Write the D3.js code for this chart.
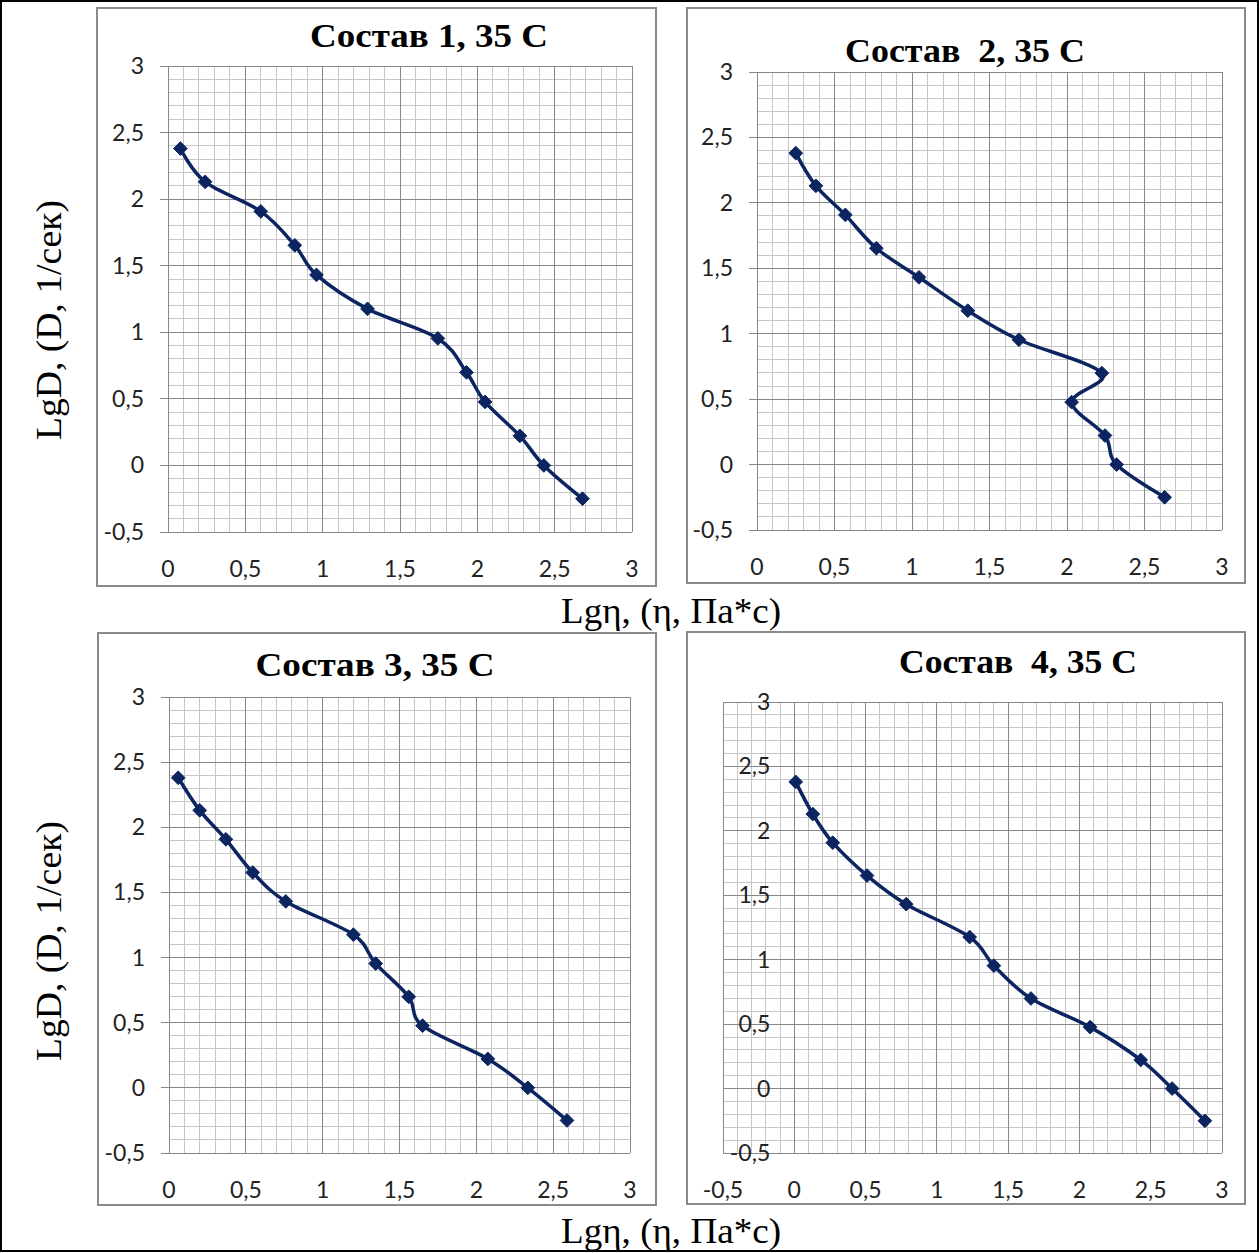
<!DOCTYPE html>
<html>
<head>
<meta charset="utf-8">
<script src="https://cdn.jsdelivr.net/npm/d3@7"></script>
<style>
  html, body { margin: 0; padding: 0; background: #fff; }
  svg { display: block; }
</style>
</head>
<body>
<svg id="chart" width="1260" height="1253"></svg>
<script>
// Shear rate (log scale) shared by all four compositions
const lgD = [2.380, 2.130, 1.908, 1.653, 1.431, 1.176, 0.954, 0.699, 0.477, 0.222, 0.000, -0.250];

// Viscosity (log scale) for each composition at 35 C
const lgEta1 = [0.08, 0.24, 0.60, 0.82, 0.96, 1.29, 1.745, 1.93, 2.05, 2.275, 2.43, 2.68];
const lgEta2 = [0.25, 0.38, 0.57, 0.77, 1.045, 1.36, 1.69, 2.225, 2.03, 2.245, 2.32, 2.63];
const lgEta3 = [0.06, 0.20, 0.37, 0.545, 0.76, 1.20, 1.345, 1.56, 1.65, 2.075, 2.335, 2.59];
const lgEta4 = [0.01, 0.13, 0.27, 0.51, 0.785, 1.23, 1.40, 1.66, 2.075, 2.43, 2.65, 2.88];

const titles = ["Состав 1, 35 С", "Состав  2, 35 С", "Состав 3, 35 С", "Состав  4, 35 С"];
const yTicks = [-0.5, 0, 0.5, 1, 1.5, 2, 2.5, 3];
const xTicks = [0, 0.5, 1, 1.5, 2, 2.5, 3];
const xTicks4 = [-0.5, 0, 0.5, 1, 1.5, 2, 2.5, 3];
const yAxisTitle = "LgD, (D, 1/сек)";
const xAxisTitle = "Lgη, (η, Па*с)";

const fmt = v => String(v).replace(".", ",");

const svg = d3.select("#chart");
const lineColor = "#0c2561";
const serif = "'Liberation Serif', 'DejaVu Serif', serif";
const sans = "Lato, 'Open Sans', sans-serif";

// Layout of the four chart boxes
const panels = [
  { eta: lgEta1, title: titles[0], frame: [97, 8, 656, 586], plot: [168, 66, 632, 532], xDom: [0, 3], xt: xTicks, tx: 429, ty: 35, tw: 238, ext: 8 },
  { eta: lgEta2, title: titles[1], frame: [687, 8, 1245, 583], plot: [757, 72, 1222, 530], xDom: [0, 3], xt: xTicks, tx: 965, ty: 50, tw: 240, ext: 8 },
  { eta: lgEta3, title: titles[2], frame: [98, 633, 656, 1205], plot: [169, 697, 630, 1153], xDom: [0, 3], xt: xTicks, tx: 375, ty: 664, tw: 239, ext: 8 },
  { eta: lgEta4, title: titles[3], frame: [687, 632, 1245, 1204], plot: [723, 702, 1222, 1153], xDom: [-0.5, 3], xt: xTicks4, tx: 1018, ty: 661, tw: 238, ext: 0 }
];

// outer border
svg.append("rect").attr("x", 1).attr("y", 1).attr("width", 1257).attr("height", 1250)
  .attr("fill", "none").attr("stroke", "#000").attr("stroke-width", 2);

panels.forEach(p => {
  const g = svg.append("g");
  const [fx0, fy0, fx1, fy1] = p.frame;
  const [px0, py0, px1, py1] = p.plot;

  g.append("rect").attr("x", fx0).attr("y", fy0).attr("width", fx1 - fx0).attr("height", fy1 - fy0)
    .attr("fill", "#fff").attr("stroke", "#8a8a8a").attr("stroke-width", 2);

  const x = d3.scaleLinear().domain(p.xDom).range([px0, px1]);
  const y = d3.scaleLinear().domain([-0.5, 3]).range([py1, py0]);

  // minor grid every 0.1
  const minorX = d3.range(Math.round(p.xDom[0] * 10), 31).map(v => v / 10);
  const minorY = d3.range(-5, 31).map(v => v / 10);
  const grid = g.append("g").attr("shape-rendering", "crispEdges");
  grid.selectAll(".mx").data(minorX).join("line")
    .attr("x1", d => x(d)).attr("x2", d => x(d)).attr("y1", py0).attr("y2", py1)
    .attr("stroke", "#c6c6c6").attr("stroke-width", 1);
  grid.selectAll(".my").data(minorY).join("line")
    .attr("x1", px0).attr("x2", px1).attr("y1", d => y(d)).attr("y2", d => y(d))
    .attr("stroke", "#c6c6c6").attr("stroke-width", 1);
  // major grid every 0.5
  grid.selectAll(".Mx").data(p.xt).join("line")
    .attr("x1", d => x(d)).attr("x2", d => x(d)).attr("y1", py0).attr("y2", py1)
    .attr("stroke", "#878787").attr("stroke-width", 1);
  grid.selectAll(".My").data(yTicks).join("line")
    .attr("x1", px0 - p.ext).attr("x2", px1).attr("y1", d => y(d)).attr("y2", d => y(d))
    .attr("stroke", "#878787").attr("stroke-width", 1);

  // tick labels
  const yLabelX = x(0) - 24;
  g.selectAll(".yl").data(yTicks).join("text")
    .attr("x", yLabelX).attr("y", d => y(d)).attr("dy", "0.35em")
    .attr("text-anchor", "end")
    .attr("font-family", sans).attr("font-size", 23).attr("fill", "#222")
    .text(d => fmt(d));
  g.selectAll(".xl").data(p.xt).join("text")
    .attr("x", d => x(d)).attr("y", py1 + 37).attr("dy", "0.35em")
    .attr("text-anchor", "middle")
    .attr("font-family", sans).attr("font-size", 23).attr("fill", "#222")
    .text(d => fmt(d));

  // title
  g.append("text").attr("x", p.tx - p.tw / 2).attr("y", p.ty).attr("dy", "0.35em")
    .attr("xml:space", "preserve")
    .attr("textLength", p.tw).attr("lengthAdjust", "spacingAndGlyphs")
    .attr("font-family", serif).attr("font-weight", "bold")
    .attr("font-size", 34).attr("fill", "#000")
    .text(p.title);

  // data line
  const pts = p.eta.map((e, i) => [x(e), y(lgD[i])]);
  g.append("path").datum(pts)
    .attr("d", d3.line().curve(d3.curveCatmullRom.alpha(0)))
    .attr("fill", "none").attr("stroke", lineColor).attr("stroke-width", 3.5)
    .attr("stroke-linejoin", "round");
  g.selectAll(".m").data(pts).join("path")
    .attr("transform", d => `translate(${d[0]},${d[1]})`)
    .attr("d", d3.symbol(d3.symbolDiamond2, 120))
    .attr("fill", lineColor).attr("stroke", lineColor).attr("stroke-width", 1);
});

// axis titles
[320, 941].forEach(cy => {
  svg.append("text").attr("transform", `translate(48,${cy}) rotate(-90)`)
    .attr("x", -120).attr("dy", "0.35em")
    .attr("textLength", 240).attr("lengthAdjust", "spacingAndGlyphs")
    .attr("font-family", serif).attr("font-size", 36).attr("fill", "#000")
    .text(yAxisTitle);
});
[610, 1230].forEach(cy => {
  svg.append("text").attr("x", 561).attr("y", cy).attr("dy", "0.35em")
    .attr("textLength", 220).attr("lengthAdjust", "spacingAndGlyphs")
    .attr("font-family", serif).attr("font-size", 36).attr("fill", "#000")
    .text(xAxisTitle);
});
</script>
</body>
</html>
